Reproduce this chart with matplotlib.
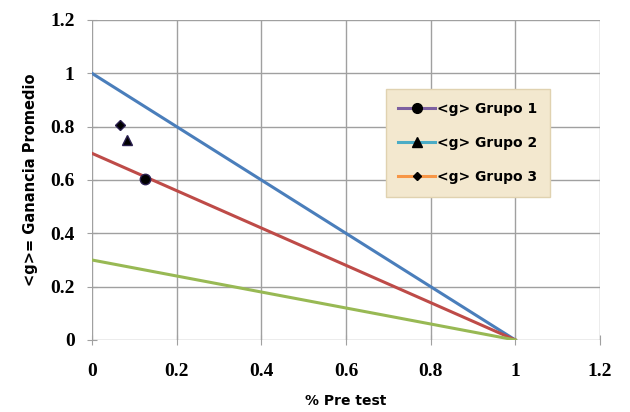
import matplotlib.pyplot as plt
from matplotlib.lines import Line2D

# reference lines: <g> against % pre test
line_x = [0, 1]
g_100 = [1.0, 0.0]
g_70 = [0.7, 0.0]
g_30 = [0.3, 0.0]

# group points
grupos = ['<g> Grupo 1', '<g> Grupo 2', '<g> Grupo 3']
pre = [0.125, 0.083, 0.065]
ganancia = [0.605, 0.75, 0.808]
markers = ['o', '^', 'D']
sizes = [7.5, 7.5, 5]
leg_sizes = [7, 7, 4.5]
leg_colors = ['#7D60A0', '#4BACC6', '#F79646']

ticks = [0, 0.2, 0.4, 0.6, 0.8, 1, 1.2]
tick_labels = ['0', '0.2', '0.4', '0.6', '0.8', '1', '1.2']

fig = plt.figure(figsize=(6.3, 4.12), dpi=100)
ax = fig.add_axes([92 / 630, 1 - 340 / 412, 508 / 630, 320 / 412])

ax.plot(line_x, g_100, color='#4A7EBB', lw=2.2)
ax.plot(line_x, g_70, color='#BE4B48', lw=2.2)
ax.plot(line_x, g_30, color='#98B954', lw=2.2)

for i in range(3):
    ax.plot(pre[i], ganancia[i], marker=markers[i], ms=sizes[i], color='black',
            mec='#2A1F4F', ls='none', zorder=5)

ax.set_xlim(0, 1.2)
ax.set_ylim(0, 1.2)
ax.set_xticks(ticks)
ax.set_yticks(ticks)
ax.set_xticklabels(tick_labels, fontfamily='Liberation Serif', fontweight='bold', fontsize=14)
ax.set_yticklabels(tick_labels, fontfamily='Liberation Serif', fontweight='bold', fontsize=14)
ax.grid(True, color='#A0A0A0', lw=1)
ax.set_axisbelow(True)
for s in ax.spines.values():
    s.set_visible(False)
ax.tick_params(direction='inout', length=7, color='#A0A0A0', pad=9)
ax.tick_params(axis='x', pad=13)

ax.set_xlabel('% Pre test', fontfamily='DejaVu Sans', fontweight='bold', fontsize=10, labelpad=10)
ax.set_ylabel('<g>= Ganancia Promedio', fontfamily='DejaVu Sans', fontweight='bold', fontsize=10.5, labelpad=9)

handles = []
for i in range(3):
    handles.append(Line2D([0], [0], color=leg_colors[i], lw=2.2, marker=markers[i],
                          ms=leg_sizes[i], mfc='black', mec='black'))
leg = ax.legend(handles, grupos, loc='upper left', bbox_to_anchor=(0.565, 0.805),
                frameon=True, fancybox=False, handlelength=2.6, handletextpad=0.2,
                labelspacing=1.45, borderpad=0.9,
                prop={'family': 'DejaVu Sans', 'weight': 'bold', 'size': 10})
leg.get_frame().set_facecolor('#F3E8CF')
leg.get_frame().set_edgecolor('#E0D2B0')
leg.get_frame().set_alpha(1)

fig.savefig('out.png', dpi=100)
